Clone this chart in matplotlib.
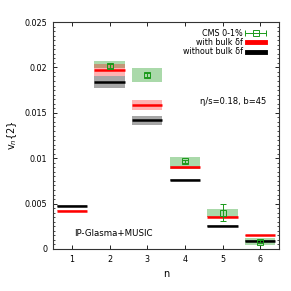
import numpy as np
import matplotlib
matplotlib.use('Agg')
import matplotlib.pyplot as plt
from matplotlib.ticker import MultipleLocator
from matplotlib.container import ErrorbarContainer
from matplotlib.legend_handler import HandlerErrorbar

# harmonic order
n = np.array([1, 2, 3, 4, 5, 6])

# with bulk delta f (red)
with_bulk = np.array([0.00423, 0.01968, 0.01582, 0.00898, 0.00357, 0.00151])
with_lo = np.array([0.00413, 0.01900, 0.01534, 0.00880, 0.00347, 0.00143])
with_hi = np.array([0.00433, 0.02040, 0.01645, 0.00918, 0.00367, 0.00159])

# without bulk delta f (black)
without_bulk = np.array([0.00471, 0.01836, 0.01416, 0.00758, 0.00257, 0.00085])
without_lo = np.array([0.00461, 0.01774, 0.01369, 0.00748, 0.00247, 0.00075])
without_hi = np.array([0.00481, 0.01900, 0.01468, 0.00768, 0.00267, 0.00095])

# CMS 0-1% data (n = 2..6)
cms_n = np.array([2, 3, 4, 5, 6])
cms_v = np.array([0.02012, 0.01913, 0.00964, 0.00401, 0.00081])
cms_stat = np.array([0.0002, 0.0002, 0.0002, 0.0009, 0.0002])
cms_sys_lo = np.array([0.01995, 0.01836, 0.00883, 0.00350, 0.00044])
cms_sys_hi = np.array([0.02067, 0.01994, 0.01012, 0.00441, 0.00118])

plt.rcParams['font.size'] = 5.8
w = 0.8
green = '#1a9a1a'

fig = plt.figure(figsize=(2.91, 2.91), dpi=100)
ax = fig.add_axes([53/291, 1 - 249/291, 226/291, 227/291])

# bands
ax.bar(cms_n, cms_sys_hi - cms_sys_lo, bottom=cms_sys_lo, width=w,
       color='#2ca02c', alpha=0.4, linewidth=0)
ax.bar(n, with_hi - with_lo, bottom=with_lo, width=w,
       color='red', alpha=0.3, linewidth=0)
ax.bar(n, without_hi - without_lo, bottom=without_lo, width=w,
       color='black', alpha=0.35, linewidth=0)

# central lines
ax.hlines(with_bulk, n - w/2, n + w/2, color='red', lw=1.8)
ax.hlines(without_bulk, n - w/2, n + w/2, color='black', lw=1.8)

# CMS points
ax.errorbar(cms_n, cms_v, yerr=cms_stat, fmt='s', mfc='none', mec=green,
            ecolor=green, ms=4.3, mew=0.7, elinewidth=0.7, capsize=2)

# legend handles (drawn off-screen)
h_cms = ax.errorbar([-10], [-10], xerr=[1], fmt='s', mfc='none', mec=green,
                    ecolor=green, ms=4.3, mew=0.7, elinewidth=0.7, capsize=2)
h_red, = ax.plot([], [], color='red', lw=3.5)
h_blk, = ax.plot([], [], color='black', lw=3.5)
ax.legend([h_cms, h_red, h_blk], ['CMS 0-1%', 'with bulk δf', 'without bulk δf'],
          loc='upper right', frameon=False, markerfirst=False,
          handlelength=2.3, labelspacing=0.05, borderaxespad=0.0,
          handletextpad=0.5, bbox_to_anchor=(0.953, 0.985),
          handler_map={ErrorbarContainer: HandlerErrorbar(xerr_size=1.3)})

ax.text(0.796, 0.649, 'η/s=0.18, b=45', transform=ax.transAxes,
        ha='center', va='center', fontsize=6)
ax.text(0.265, 0.069, 'IP-Glasma+MUSIC', transform=ax.transAxes,
        ha='center', va='center', fontsize=6.2)

ax.set_xlim(0.5, 6.5)
ax.set_ylim(0, 0.025)
ax.set_xticks([1, 2, 3, 4, 5, 6])
ax.set_yticks([0, 0.005, 0.01, 0.015, 0.02, 0.025])
ax.set_yticklabels(['0', '0.005', '0.01', '0.015', '0.02', '0.025'])
ax.yaxis.set_minor_locator(MultipleLocator(0.0005))
ax.tick_params(direction='in', top=True, right=True, length=3, width=0.6,
               labelsize=5.8, pad=4)
ax.tick_params(which='minor', direction='in', right=True, length=1.5, width=0.5)
for s in ax.spines.values():
    s.set_linewidth(0.8)
    s.set_color('#333333')

ax.set_xlabel('n', labelpad=4, fontsize=7)
ax.set_ylabel('v$_n${2}', labelpad=4, fontsize=7)

fig.savefig('out.png', dpi=100)
